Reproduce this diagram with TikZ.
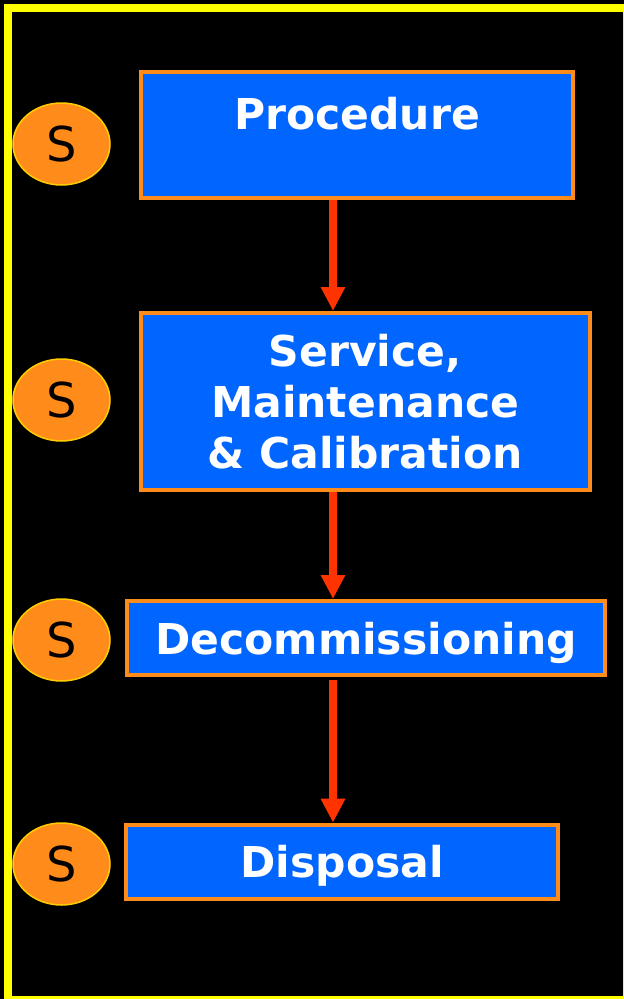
\documentclass[tikz,border=0pt]{standalone}
\usepackage{fontspec}
\setmainfont{DejaVu Sans}
\usetikzlibrary{arrows.meta,shapes.geometric}

\definecolor{frameyellow}{HTML}{FFFF00}
\definecolor{boxblue}{HTML}{0066FF}
\definecolor{boxorange}{HTML}{FF8C1A}
\definecolor{arrowred}{HTML}{FF3300}
\definecolor{ringgold}{HTML}{FFCC00}

\begin{document}
\begin{tikzpicture}[x=1pt,y=-1pt,
  stagebox/.style={draw=boxorange, fill=boxblue, line width=4pt, rectangle,
    inner sep=0pt, align=center, text=white,
    font=\fontsize{42.5}{51}\selectfont\bfseries},
  sbadge/.style={ellipse, draw=ringgold, fill=boxorange, line width=1.5pt,
    minimum width=97pt, minimum height=82pt, inner sep=0pt, text=black,
    font=\fontsize{48}{48}\selectfont},
  flowarrow/.style={draw=arrowred, line width=8pt,
    -{Triangle[width=23pt,length=24pt]}, arrowred}
]
% page and black background
\useasboundingbox (0,0) rectangle (624,999);
\fill[black] (0,0) rectangle (624,999);
\draw[frameyellow, line width=8pt] (8,8) rectangle (627,1000);

% life-cycle stages
\node[stagebox, minimum width=432pt, minimum height=126pt] (proc) at (357,135)
  {Procedure\\[-8pt]\mbox{}};
\node[stagebox, minimum width=448.5pt, minimum height=177pt] (svc) at (365.25,401.5)
  {Service,\\Maintenance\\\& Calibration};
\node[stagebox, text depth=0pt, minimum width=478pt, minimum height=74pt] (decom) at (366,638)
  {Decommissioning};
\node[stagebox, text depth=0pt, minimum width=431.3pt, minimum height=74pt] (disp) at (342.1,861.7)
  {Disposal};

% S badges beside each stage
\node[sbadge] (s1) at (61.5,144) {S};
\node[sbadge] (s2) at (61.5,400) {S};
\node[sbadge] (s3) at (61.5,640) {S};
\node[sbadge] (s4) at (61.5,864) {S};

% flow between stages
\coordinate (axis) at (333,0);
\draw[flowarrow] (proc.south -| axis) -- (svc.north -| axis);
\draw[flowarrow] (svc.south -| axis) -- (decom.north -| axis);
\draw[flowarrow, shorten <=3pt] (decom.south -| axis) -- (disp.north -| axis);
\end{tikzpicture}
\end{document}
